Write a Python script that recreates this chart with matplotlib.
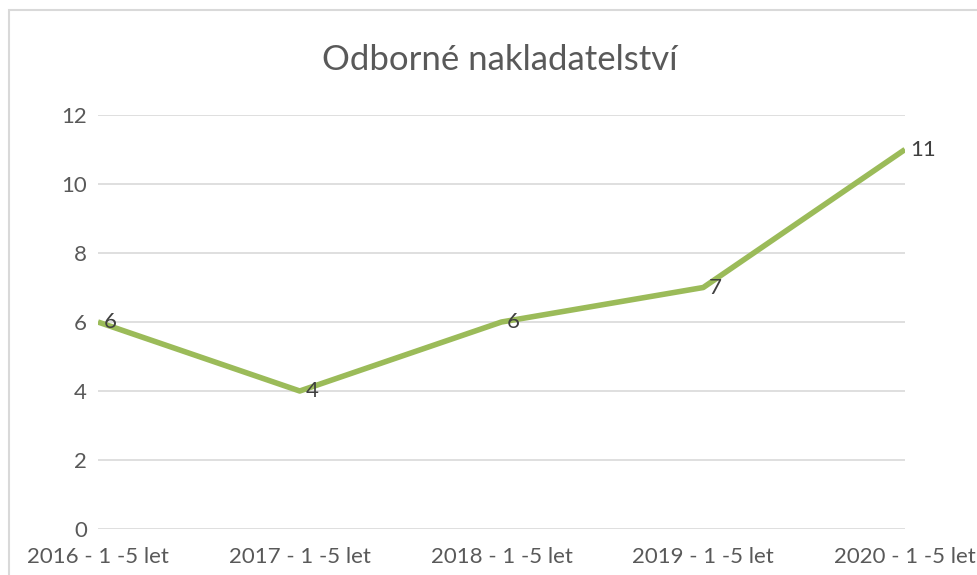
import matplotlib.pyplot as plt
from matplotlib.patches import Rectangle

# data
kategorie = ['2016 - 1 -5 let', '2017 - 1 -5 let', '2018 - 1 -5 let',
             '2019 - 1 -5 let', '2020 - 1 -5 let']
hodnoty = [6, 4, 6, 7, 11]
y_ticks = [0, 2, 4, 6, 8, 10, 12]

plt.rcParams['font.family'] = ['Lato', 'DejaVu Sans']

fig = plt.figure(figsize=(9.77, 5.75), dpi=100)
ax = fig.add_axes([98/977, 1 - 529/575, (905 - 98)/977, (529 - 115)/575])

x = list(range(len(kategorie)))
ax.plot(x, hodnoty, color='#9bbb59', linewidth=4, solid_capstyle='butt', zorder=3)

for xi, v in zip(x, hodnoty):
    ax.annotate(str(v), (xi, v), xytext=(4, 0), textcoords='offset points',
                ha='left', va='center', fontsize=16, color='#404040', zorder=4)

ax.set_xlim(0, 4)
ax.set_ylim(0, 12)
ax.set_yticks(y_ticks)
ax.set_xticks(x)
ax.set_xticklabels(kategorie)
ax.yaxis.grid(True, color='#d9d9d9', linewidth=1.2)
ax.set_axisbelow(True)
for s in ax.spines.values():
    s.set_visible(False)
ax.tick_params(length=0, labelsize=16, labelcolor='#595959')
ax.tick_params(axis='y', pad=8)
ax.tick_params(axis='x', pad=13)

fig.text(0.512, 1 - 60/575, 'Odborné nakladatelství', ha='center', va='center',
         fontsize=25, color='#595959')

fig.patches.append(Rectangle((9/977, -0.05), 1.1, 1 - 10/575 + 0.05,
                             transform=fig.transFigure, fill=False,
                             edgecolor='#d9d9d9', linewidth=1.5))

fig.savefig('out.png', dpi=100)
